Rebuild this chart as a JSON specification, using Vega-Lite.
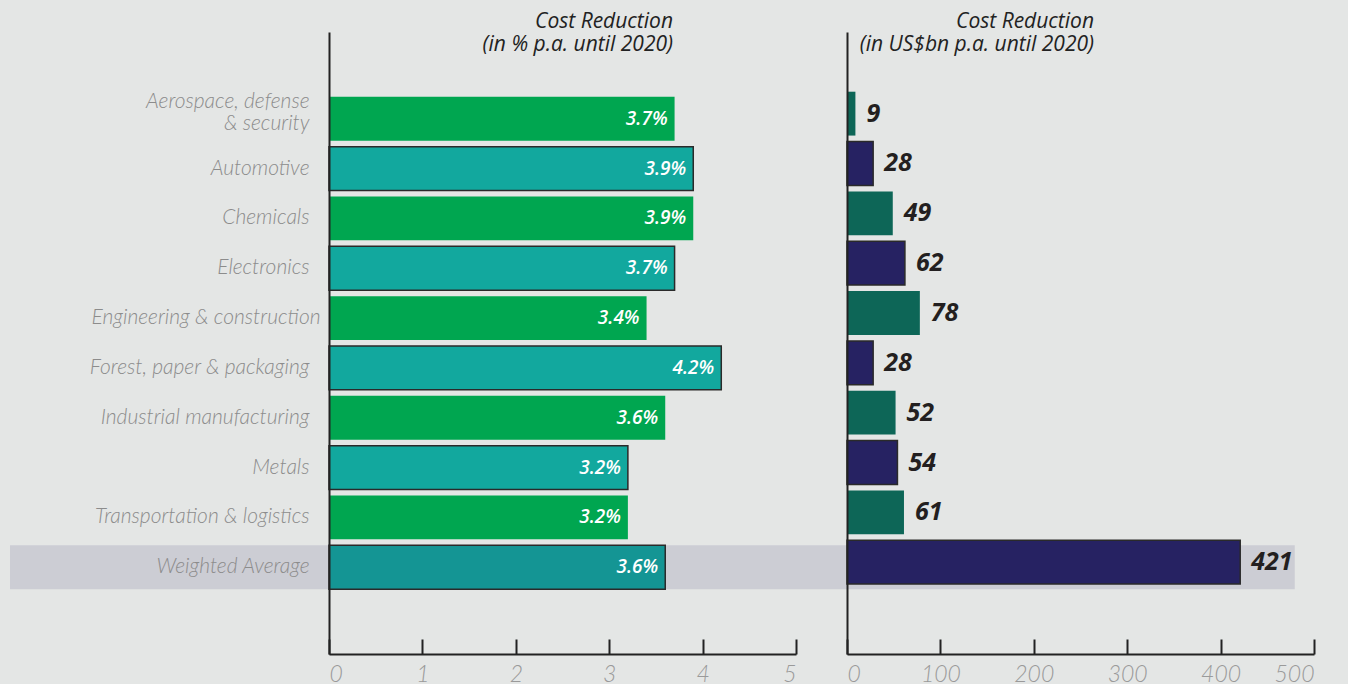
{
  "$schema": "https://vega.github.io/schema/vega-lite/v6.json",
  "background": "#e4e6e5",
  "padding": {"left": 10, "top": 11, "right": 33, "bottom": 0},
  "config": {"view": {"stroke": null}, "font": "Open Sans"},
  "data": {"values": [
    {"category": "Aerospace, defense & security", "pct": 3.7, "usd": 9, "group": "A"},
    {"category": "Automotive", "pct": 3.9, "usd": 28, "group": "B"},
    {"category": "Chemicals", "pct": 3.9, "usd": 49, "group": "A"},
    {"category": "Electronics", "pct": 3.7, "usd": 62, "group": "B"},
    {"category": "Engineering & construction", "pct": 3.4, "usd": 78, "group": "A"},
    {"category": "Forest, paper & packaging", "pct": 4.2, "usd": 28, "group": "B"},
    {"category": "Industrial manufacturing", "pct": 3.6, "usd": 52, "group": "A"},
    {"category": "Metals", "pct": 3.2, "usd": 54, "group": "B"},
    {"category": "Transportation & logistics", "pct": 3.2, "usd": 61, "group": "A"},
    {"category": "Weighted Average", "pct": 3.6, "usd": 421, "group": "avg"}
  ]},
  "spacing": 51,
  "bounds": "flush",
  "resolve": {"scale": {"color": "independent", "x": "independent", "y": "independent"}},
  "hconcat": [
    {
      "width": 467,
      "height": 622,
      "title": {"text": ["Cost Reduction", "(in % p.a. until 2020)"], "frame": "group", "anchor": "end", "align": "right", "dx": -123, "offset": -23, "fontStyle": "italic", "fontWeight": 400, "fontSize": 21, "lineHeight": 23, "color": "#222222"},
      "encoding": {
        "y": {"field": "category", "type": "nominal",
          "scale": {"domain": ["TOP", "Aerospace, defense & security", "Automotive", "Chemicals", "Electronics", "Engineering & construction", "Forest, paper & packaging", "Industrial manufacturing", "Metals", "Transportation & logistics", "Weighted Average", "BOT"], "paddingInner": 0.12, "paddingOuter": 0.3, "align": 0.5},
          "axis": {"title": null, "ticks": false, "domain": true, "domainColor": "#222222", "domainWidth": 2, "labelFont": "Lato", "labelFontSize": 21, "labelColor": "#8c8c8c", "labelFontStyle": "italic", "labelFontWeight": 300, "labelLimit": 340, "zindex": 1,
            "labelPadding": {"condition": {"test": "datum.value == 'Engineering & construction'", "value": 9}, "value": 20},
            "labelOffset": {"condition": {"test": "datum.value == 'Aerospace, defense & security'", "value": -17}, "value": 0},
            "labelExpr": "datum.value == 'TOP' || datum.value == 'BOT' ? '' : datum.value == 'Aerospace, defense & security' ? ['Aerospace, defense', '& security'] : datum.value", "labelLineHeight": 22}}
      },
      "layer": [
        {
          "transform": [{"filter": "datum.group == 'avg'"}],
          "mark": {"type": "bar", "color": "#cccdd4"},
          "encoding": {
            "x": {"datum": -3.415, "type": "quantitative", "scale": {"domain": [0, 5]}},
            "x2": {"datum": 10.34}
          }
        },
        {
          "mark": {"type": "bar", "strokeWidth": 1.5},
          "encoding": {
            "x": {"field": "pct", "type": "quantitative", "scale": {"domain": [0, 5]},
              "axis": {"title": null, "values": [0, 1, 2, 3, 4, 5], "format": "d", "grid": false, "tickSize": -15, "tickWidth": 2, "tickColor": "#222222", "domainColor": "#222222", "domainWidth": 2, "labelFont": "Lato", "labelFontSize": 23, "labelColor": "#9a9a9a", "labelFontStyle": "italic", "labelFontWeight": 300, "labelPadding": 24, "zindex": 1}},
            "color": {"field": "group", "type": "nominal", "legend": null,
              "scale": {"domain": ["A", "B", "avg"], "range": ["#00a650", "#12a89e", "#149594"]}},
            "stroke": {"condition": {"test": "datum.group != 'A'", "value": "#2a2a2a"}, "value": null}
          }
        },
        {
          "transform": [{"calculate": "format(datum.pct, '.1f') + '%'", "as": "label"}],
          "mark": {"type": "text", "align": "right", "baseline": "middle", "dx": -7, "color": "#ffffff", "fontSize": 19, "fontStyle": "italic", "fontWeight": 600},
          "encoding": {
            "x": {"field": "pct", "type": "quantitative"},
            "text": {"field": "label", "type": "nominal"}
          }
        }
      ]
    },
    {
      "width": 467,
      "height": 622,
      "title": {"text": ["Cost Reduction", "(in US$bn p.a. until 2020)"], "frame": "group", "anchor": "end", "align": "right", "dx": -220, "offset": -23, "fontStyle": "italic", "fontWeight": 400, "fontSize": 21, "lineHeight": 23, "color": "#222222"},
      "encoding": {
        "y": {"field": "category", "type": "nominal",
          "scale": {"domain": ["TOP", "Aerospace, defense & security", "Automotive", "Chemicals", "Electronics", "Engineering & construction", "Forest, paper & packaging", "Industrial manufacturing", "Metals", "Transportation & logistics", "Weighted Average", "BOT"], "paddingInner": 0.12, "paddingOuter": 0.3, "align": 0.33},
          "axis": {"title": null, "ticks": false, "labels": false, "domain": true, "domainColor": "#222222", "domainWidth": 2, "zindex": 1}}
      },
      "layer": [
        {
          "mark": {"type": "bar", "strokeWidth": 1.5},
          "encoding": {
            "x": {"field": "usd", "type": "quantitative", "scale": {"domain": [0, 500]},
              "axis": {"title": null, "values": [0, 100, 200, 300, 400, 500], "format": "d", "grid": false, "tickSize": -15, "tickWidth": 2, "tickColor": "#222222", "domainColor": "#222222", "domainWidth": 2, "labelFont": "Lato", "labelFontSize": 23, "labelColor": "#9a9a9a", "labelFontStyle": "italic", "labelFontWeight": 300, "labelPadding": 24, "zindex": 1}},
            "color": {"field": "group", "type": "nominal", "legend": null,
              "scale": {"domain": ["A", "B", "avg"], "range": ["#0d6657", "#262262", "#262262"]}},
            "stroke": {"condition": {"test": "datum.group != 'A'", "value": "#2a2a2a"}, "value": null}
          }
        },
        {
          "mark": {"type": "text", "align": "left", "baseline": "middle", "dx": 11, "color": "#231f20", "fontSize": 25, "fontStyle": "italic", "fontWeight": 700},
          "encoding": {
            "x": {"field": "usd", "type": "quantitative"},
            "text": {"field": "usd", "type": "quantitative"}
          }
        }
      ]
    }
  ]
}
